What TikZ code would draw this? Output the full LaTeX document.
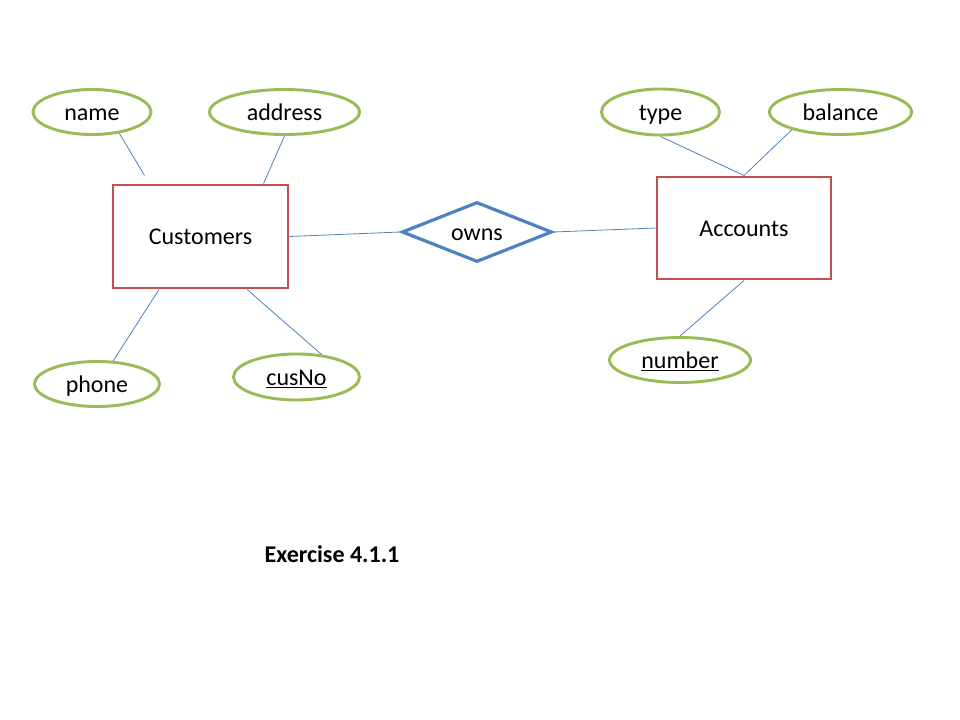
\documentclass[tikz,border=0pt]{standalone}
\usepackage{fontspec}
\setmainfont{Carlito}
\usetikzlibrary{shapes.geometric,calc}
\definecolor{entred}{HTML}{C0504D}
\definecolor{attgreen}{HTML}{9BBB59}
\definecolor{relblue}{HTML}{4F81BD}
\newcommand\keyul[1]{\leavevmode\vtop{\hbox{#1}\kern0.9pt\hrule height 1.2pt}}
\tikzset{
  label font/.style={font=\fontsize{18}{21}\selectfont, text height=12.5pt, text depth=0pt},
  attr/.style={ellipse, draw=attgreen, line width=2.2pt, inner sep=0pt, label font},
  entity/.style={rectangle, draw=entred, line width=2.2pt, inner sep=0pt, label font},
  rel/.style={diamond, draw=relblue, line width=2.4pt, inner sep=0pt, aspect=2.5, label font},
  conn/.style={draw=relblue, line width=0.6pt},
  caption/.style={font=\fontsize{18}{21}\selectfont\bfseries, inner sep=0pt}
}
\begin{document}
\begin{tikzpicture}[x=0.75pt, y=-0.75pt]
\useasboundingbox (0,0) rectangle (960,720);
% entities
\node[entity, minimum width=131.25pt, minimum height=77.25pt] (cust) at (200.5,236.5) {Customers};
\node[entity, minimum width=130.5pt, minimum height=76.5pt] (acc) at (744,228) {Accounts};
% relationship
\node[rel, minimum width=112.5pt, minimum height=45pt] (owns) at (477,232) {owns};
% attributes
\node[attr, minimum width=88.5pt, minimum height=33.75pt] (name) at (92,112) {name};
\node[attr, minimum width=112.5pt, minimum height=33.75pt] (address) at (284.5,112) {address};
\node[attr, minimum width=93.75pt, minimum height=33.75pt] (phone) at (97,384) {phone};
\node[attr, minimum width=94.5pt, minimum height=34.5pt] (cusNo) at (296.5,377) {\keyul{cusNo}};
\node[attr, minimum width=88.5pt, minimum height=34.5pt] (type) at (660.5,112) {type};
\node[attr, minimum width=106.5pt, minimum height=33.75pt] (balance) at (840.5,112) {balance};
\node[attr, minimum width=105.75pt, minimum height=33.75pt] (number) at (680,360) {\keyul{number}};
% caption
\node[caption, anchor=base] (ex) at (332,562) {Exercise 4.1.1};
% connectors
\coordinate (nameEnd) at ($(cust.north west)+(33,-8)$);
\draw[conn] (name.-38) -- (nameEnd);
\draw[conn] (address.south) -- ($(cust.north west)+(152,0)$);
\draw[conn] ($(cust.south west)+(47.5,0)$) -- (phone.55);
\draw[conn] ($(cust.south west)+(135.5,0)$) -- (cusNo.42);
\draw[conn] (cust.east) -- (owns.west);
\draw[conn] (owns.east) -- (acc.west);
\draw[conn] (type.south) -- (acc.north);
\draw[conn] (balance.200) -- (acc.north);
\draw[conn] (acc.south) -- (number.north);
\end{tikzpicture}
\end{document}
